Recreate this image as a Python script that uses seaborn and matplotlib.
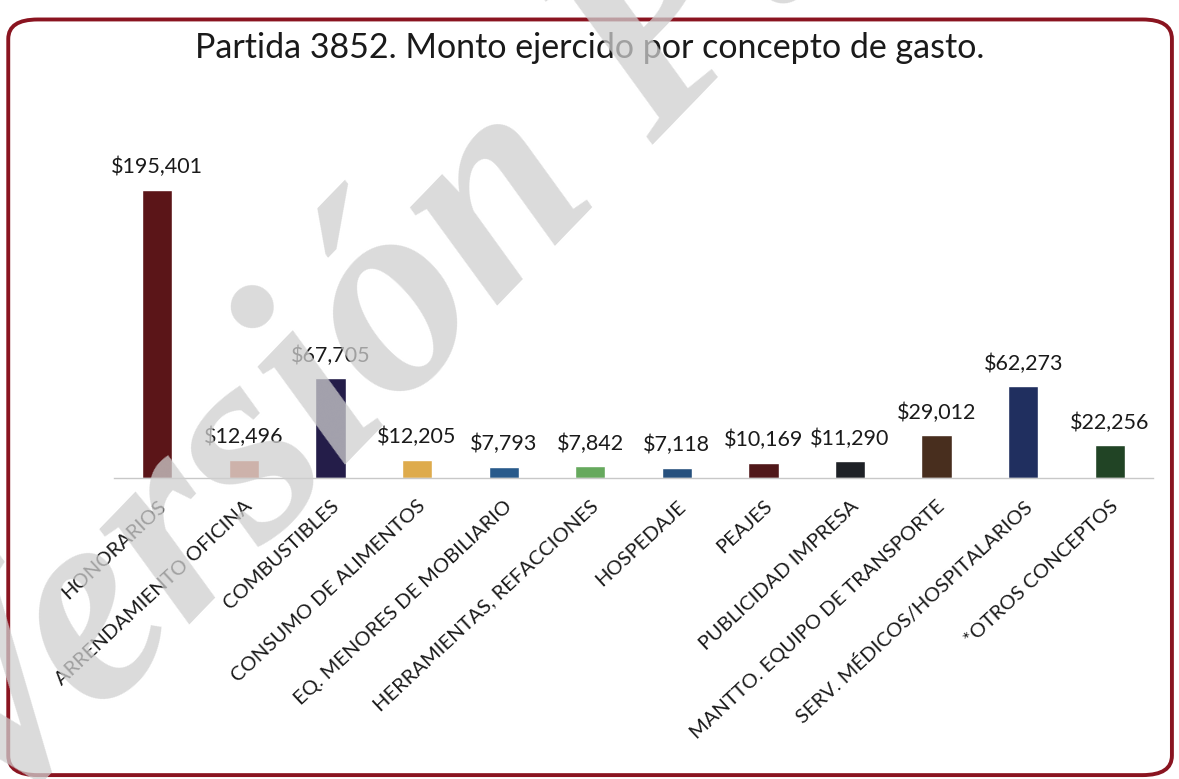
import os
import matplotlib
matplotlib.use("Agg")
import matplotlib.pyplot as plt
from matplotlib import font_manager
from matplotlib.patches import FancyBboxPatch
import seaborn as sns
import pandas as pd

# values
conceptos = ["HONORARIOS", "ARRENDAMIENTO OFICINA", "COMBUSTIBLES",
             "CONSUMO DE ALIMENTOS", "EQ. MENORES DE MOBILIARIO",
             "HERRAMIENTAS, REFACCIONES", "HOSPEDAJE", "PEAJES",
             "PUBLICIDAD IMPRESA", "MANTTO. EQUIPO DE TRANSPORTE",
             "SERV. MÉDICOS/HOSPITALARIOS", "*OTROS CONCEPTOS"]
montos = [195401, 12496, 67705, 12205, 7793, 7842, 7118, 10169, 11290,
          29012, 62273, 22256]
colores = ["#660a0e", "#e0532f", "#1f1650", "#f6b234", "#175a9c",
           "#5cb551", "#17508c", "#5a0d10", "#1d2027", "#4f2c17",
           "#152a6a", "#1b4a20"]

sns.set_theme(style="white")
plt.rcParams["font.family"] = ["Lato", "DejaVu Sans"]

df = pd.DataFrame({"concepto": conceptos, "monto": montos})

fig = plt.figure(figsize=(11.79, 7.79), dpi=100)
ax = fig.add_axes([0.0967, 0.3864, 0.8813, 0.421])

sns.barplot(data=df, x="concepto", y="monto", hue="concepto",
            palette=colores, width=0.35, legend=False, ax=ax)
ax.set_ylim(0, 222550)
ax.set_xlim(-0.5, len(conceptos) - 0.5)

for cont in ax.containers:
    ax.bar_label(cont, labels=[f"${v:,.0f}" for v in cont.datavalues],
                 padding=9, fontsize=15.5, color="#1a1a1a")

ax.set_xlabel("")
ax.set_ylabel("")
ax.set_yticks([])
ax.tick_params(axis="x", length=0, pad=14)
ax.set_xticks(range(len(conceptos)))
ax.set_xticklabels(conceptos, rotation=43, ha="right",
                   rotation_mode="anchor", fontsize=14.5, color="#1a1a1a")
sns.despine(ax=ax, left=True, top=True, right=True)
ax.spines["bottom"].set_color("#c8c8c8")
ax.spines["bottom"].set_linewidth(1.0)

fig.text(0.5, 0.938, "Partida 3852. Monto ejercido por concepto de gasto.",
         ha="center", va="center", fontsize=24.5, color="#1a1a1a")

# rounded frame
frame = FancyBboxPatch((0.007, 0.005), 0.987, 0.97,
                       boxstyle="round,pad=0,rounding_size=0.025",
                       transform=fig.transFigure, fill=False,
                       edgecolor="#8a1420", linewidth=2.8)
fig.patches.append(frame)

# watermark, serif bold italic
serif_file = None
for f in font_manager.fontManager.ttflist:
    if f.name == "Liberation Serif" and f.style == "italic" and f.weight == 700:
        serif_file = f.fname
if serif_file is None:
    serif_file = os.path.join(matplotlib.get_data_path(), "fonts", "ttf",
                              "DejaVuSerif-BoldItalic.ttf")
marca = font_manager.FontProperties(fname=serif_file, size=205)
fig.text(-0.01, -0.07, "Versión Pública", rotation=46,
         rotation_mode="anchor", ha="left", va="baseline",
         fontproperties=marca, color="#cfcfcf", alpha=0.75, zorder=10)

fig.savefig("out.png", dpi=100)
